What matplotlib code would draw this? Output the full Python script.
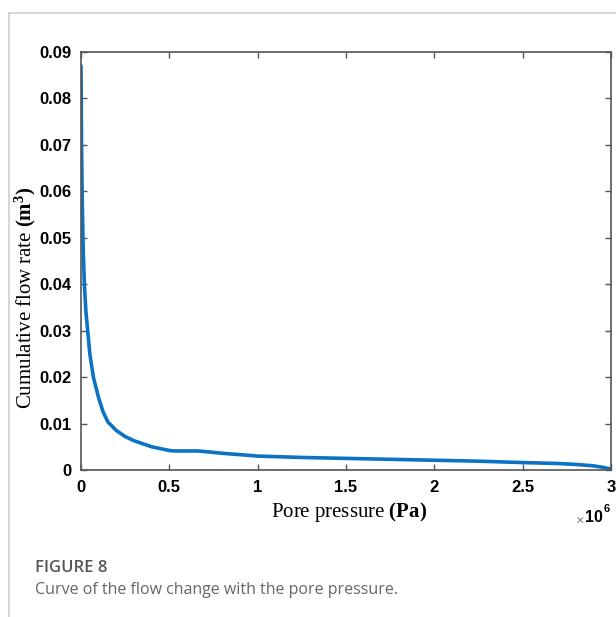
import matplotlib
matplotlib.use('Agg')
import matplotlib.pyplot as plt
from matplotlib.lines import Line2D

plt.rcParams['mathtext.fontset'] = 'custom'
plt.rcParams['mathtext.rm'] = 'Liberation Serif'
plt.rcParams['mathtext.it'] = 'Liberation Serif:italic'
plt.rcParams['mathtext.bf'] = 'Liberation Serif:bold'

# pore pressure (Pa) and cumulative flow rate (m^3)
pressure = [0, 0.003e6, 0.007e6, 0.013e6, 0.019e6, 0.028e6, 0.038e6, 0.05e6,
            0.07e6, 0.1e6, 0.125e6, 0.153e6, 0.2e6, 0.25e6, 0.3e6, 0.4e6, 0.5e6,
            0.53e6, 0.6e6, 0.66e6, 0.72e6, 0.8e6, 0.9e6, 1.0e6, 1.25e6, 1.5e6,
            1.75e6, 2.0e6, 2.25e6, 2.5e6, 2.7e6, 2.8e6, 2.9e6, 2.95e6, 3.0e6]
flow = [0.087, 0.07, 0.058, 0.047, 0.040, 0.034, 0.030, 0.025,
        0.020, 0.0155, 0.0125, 0.0103, 0.0085, 0.0072, 0.0063, 0.0050, 0.0042,
        0.0041, 0.0041, 0.0041, 0.0039, 0.0036, 0.0033, 0.0030, 0.0027, 0.0025,
        0.0023, 0.0021, 0.0019, 0.0016, 0.0014, 0.0012, 0.0009, 0.0006, 0.0002]

xticks = [0, 0.5e6, 1e6, 1.5e6, 2e6, 2.5e6, 3e6]
xticklabels = ['0', '0.5', '1', '1.5', '2', '2.5', '3']
yticks = [0, 0.01, 0.02, 0.03, 0.04, 0.05, 0.06, 0.07, 0.08, 0.09]
yticklabels = ['0', '0.01', '0.02', '0.03', '0.04', '0.05', '0.06', '0.07', '0.08', '0.09']

fig = plt.figure(figsize=(6.16, 6.17), dpi=100)

# page border lines
fig.add_artist(Line2D([9 / 616, 9 / 616], [0, 1 - 13 / 617], color='#d0d0d0', lw=1.2))
fig.add_artist(Line2D([9 / 616, 1], [1 - 13 / 617, 1 - 13 / 617], color='#d0d0d0', lw=1.2))

ax = fig.add_axes([81 / 616, 1 - 470 / 617, (611 - 81) / 616, (470 - 52) / 617])
ax.plot(pressure, flow, color='#0b72c4', lw=2.6, solid_capstyle='round')

ax.set_xlim(0, 3e6)
ax.set_ylim(0, 0.09)
ax.set_xticks(xticks)
ax.set_xticklabels(xticklabels)
ax.set_yticks(yticks)
ax.set_yticklabels(yticklabels)
ax.tick_params(direction='in', length=4, width=1, color='#555555',
               top=True, right=True, labelsize=12)
ax.tick_params(axis='x', pad=7)
ax.tick_params(axis='y', pad=7)
for lab in ax.get_xticklabels() + ax.get_yticklabels():
    lab.set_fontweight('bold')
    lab.set_family('Liberation Sans')
for s in ax.spines.values():
    s.set_color('#555555')
    s.set_linewidth(1.2)

ax.set_xlabel(r'$\mathrm{Pore\ pressure\ }\mathbf{(Pa)}$', fontsize=15)
ax.xaxis.set_label_coords((349 - 81) / 530, -(512 - 470) / 418)
ax.xaxis.label.set_va('center')
ax.set_ylabel(r'$\mathrm{Cumulative\ flow\ rate\ }\mathbf{(m^3)}$', fontsize=15)
ax.yaxis.set_label_coords(-(81 - 38) / 530, (470 - 298) / 418)

# x-axis multiplier
fig.text(584 / 616, 1 - 519 / 617, r'$\times$', fontsize=11, color='#555555', ha='right', va='center')
fig.text(603 / 616, 1 - 518 / 617, '10', fontsize=11.5, fontweight='bold', ha='right', va='center',
         family='Liberation Sans')
fig.text(604 / 616, 1 - 509 / 617, '6', fontsize=8, fontweight='bold', ha='left', va='center',
         family='Liberation Sans')

fig.text(35 / 616, 1 - 568 / 617, 'FIGURE 8', fontsize=12, color='#555555', fontweight='semibold',
         family='Open Sans', va='center')
fig.text(35 / 616, 1 - 590 / 617, 'Curve of the flow change with the pore pressure.', fontsize=11.5,
         color='#666666', family='Open Sans', va='center')

fig.savefig('out.png', dpi=100)
